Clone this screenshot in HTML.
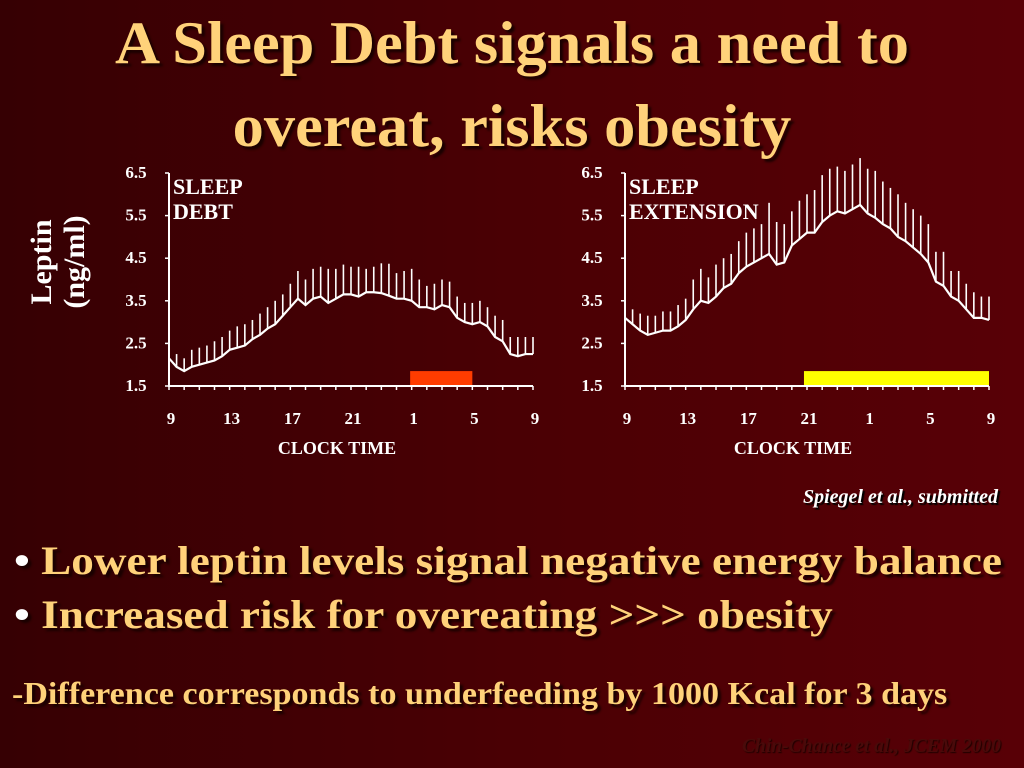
<!DOCTYPE html>
<html><head><meta charset="utf-8"><style>
html,body{margin:0;padding:0}
body{width:1024px;height:768px;overflow:hidden;position:relative;font-family:"Liberation Serif",serif;
background:linear-gradient(90deg,#360003 0%,#4a0004 50%,#580006 100%);}
.gold{color:#ffd27a;text-shadow:3px 3px 2px #1a0000;font-weight:bold;position:absolute;white-space:nowrap;transform-origin:0 0}
.title{font-size:60px;left:0;width:1024px;text-align:center;transform-origin:50% 0;transform:scaleX(1.04)}
svg{position:absolute;left:0;top:0}
svg text{font-family:"Liberation Serif",serif;font-weight:bold;fill:#fff}
</style></head><body>
<div class="gold title" style="top:9px">A Sleep Debt signals a need to</div>
<div class="gold title" style="top:92px">overeat, risks obesity</div>
<svg id="chart" width="1024" height="768">
<text x="0" y="0" font-size="30" transform="translate(51,262) rotate(-90)" text-anchor="middle">Leptin</text>
<text x="0" y="0" font-size="30" transform="translate(84,262) rotate(-90)" text-anchor="middle">(ng/ml)</text>
</svg>
<div class="gold" style="left:803px;top:486px;font-size:20px;color:#fff;font-style:italic;text-shadow:2px 2px 1px #000">Spiegel et al., submitted</div>
<div class="gold" style="left:14px;top:537px;font-size:40px;transform:scaleX(1.13)"><span style="color:#fff">•</span> Lower leptin levels signal negative energy balance</div>
<div class="gold" style="left:14px;top:591px;font-size:40px;transform:scaleX(1.13)"><span style="color:#fff">•</span> Increased risk for overeating &gt;&gt;&gt; obesity</div>
<div class="gold" style="left:12px;top:675px;font-size:32px;transform:scaleX(1.064)">-Difference corresponds to underfeeding by 1000 Kcal for 3 days</div>
<div class="gold" style="left:742px;top:736px;font-size:19.5px;font-style:italic;color:#4a0a0a;text-shadow:1px 1px 1px #200000">Chin-Chance et al., JCEM 2000</div>
<script>
const hours=[0,0.5,1,1.5,2,2.5,3,3.5,4,4.5,5,5.5,6,6.5,7,7.5,8,8.5,9,9.5,10,10.5,11,11.5,12,12.5,13,13.5,14,14.5,15,15.5,16,16.5,17,17.5,18,18.5,19,19.5,20,20.5,21,21.5,22,22.5,23,23.5,24];
const debtMean=[2.15,1.95,1.85,1.95,2.0,2.05,2.1,2.2,2.35,2.4,2.45,2.6,2.7,2.85,2.95,3.15,3.35,3.55,3.4,3.55,3.6,3.45,3.55,3.65,3.65,3.6,3.7,3.7,3.68,3.62,3.55,3.55,3.5,3.35,3.35,3.3,3.4,3.35,3.1,3.0,2.95,3.0,2.9,2.65,2.55,2.25,2.2,2.25,2.25];
const debtErr=[0.4,0.3,0.3,0.4,0.4,0.4,0.45,0.45,0.45,0.5,0.5,0.45,0.5,0.5,0.55,0.5,0.55,0.65,0.6,0.7,0.7,0.8,0.7,0.7,0.65,0.7,0.55,0.6,0.7,0.75,0.6,0.65,0.75,0.65,0.5,0.6,0.6,0.6,0.5,0.45,0.5,0.5,0.45,0.5,0.5,0.4,0.45,0.4,0.4];
const extMean=[3.1,2.95,2.8,2.7,2.75,2.8,2.8,2.9,3.05,3.3,3.5,3.45,3.6,3.8,3.9,4.15,4.3,4.4,4.5,4.6,4.35,4.4,4.8,4.95,5.1,5.1,5.35,5.5,5.6,5.55,5.65,5.75,5.55,5.45,5.3,5.2,5.0,4.9,4.75,4.6,4.4,3.95,3.85,3.6,3.5,3.3,3.1,3.1,3.05];
const extErr=[0.4,0.35,0.4,0.45,0.4,0.45,0.45,0.5,0.5,0.7,0.75,0.6,0.75,0.7,0.7,0.75,0.8,0.8,0.8,1.2,1.0,0.9,0.8,0.9,0.9,1.0,1.1,1.1,1.05,1.0,1.05,1.1,1.05,1.1,1.0,0.95,1.0,0.9,0.9,0.9,0.9,0.7,0.8,0.6,0.7,0.6,0.6,0.5,0.55];
const yTicks=[1.5,2.5,3.5,4.5,5.5,6.5];
const xTickLabels=["9","13","17","21","1","5","9"];
const svg=document.getElementById('chart');
const NS='http://www.w3.org/2000/svg';
function mk(tag,attrs,parent){const e=document.createElementNS(NS,tag);for(const k in attrs)e.setAttribute(k,attrs[k]);(parent||svg).appendChild(e);return e;}
function drawPanel(x0,label,mean,err,barStart,barEnd,barColor,prefix){
  const x1=x0+364,yb=386,yt=173;
  const X=h=>x0+h/24*(x1-x0);
  const Y=v=>yb-(v-1.5)/5*(yb-yt);
  const g=mk('g',{});
  
  
  const r=mk('rect',{x:X(barStart),y:Y(1.85),width:X(barEnd)-X(barStart),height:Y(1.5)-Y(1.85)-1,fill:barColor},g);
  
  
  const ax=mk('path',{d:`M${x0},${Y(6.5)}V${yb}H${x1}`,stroke:'#fff','stroke-width':2,fill:'none'},g);
  
  
  for(let h=0;h<=24;h++){mk('line',{x1:X(h),x2:X(h),y1:yb,y2:yb+4,stroke:'#fff','stroke-width':1.5},g);}
  yTicks.forEach(v=>{
    mk('line',{x1:x0-4,x2:x0,y1:Y(v),y2:Y(v),stroke:'#fff','stroke-width':1.5},g);
    const t=mk('text',{x:x0-33,y:Y(v)+5,'font-size':17,'text-anchor':'middle'},g);t.textContent=v.toFixed(1);
    
    
  });
  xTickLabels.forEach((s,i)=>{
    const t=mk('text',{x:X(i*4)+2,y:424,'font-size':17,'text-anchor':'middle'},g);t.textContent=s;
    
    
  });
  const xt=mk('text',{x:(x0+x1)/2-14,y:454,'font-size':18,'text-anchor':'middle'},g);xt.textContent='CLOCK TIME';
  
  
  label.forEach((s,i)=>{
    const t=mk('text',{x:x0+4,y:194+i*25,'font-size':22},g);t.textContent=s;
    
    
  });
  hours.forEach((h,i)=>{
    const l=mk('line',{x1:X(h),x2:X(h),y1:Y(mean[i]),y2:Y(mean[i]+err[i]),stroke:'#fff','stroke-width':1.6},g);
    
    
  });
  const p=mk('polyline',{points:hours.map((h,i)=>X(h)+','+Y(mean[i])).join(' '),stroke:'#fff','stroke-width':2.2,fill:'none'},g);
  
  
}
drawPanel(169,['SLEEP','DEBT'],debtMean,debtErr,15.9,20,'#ff3c00','sleep-debt');
drawPanel(625,['SLEEP','EXTENSION'],extMean,extErr,11.8,24,'#ffff00','sleep-extension');
</script>
</body></html>
